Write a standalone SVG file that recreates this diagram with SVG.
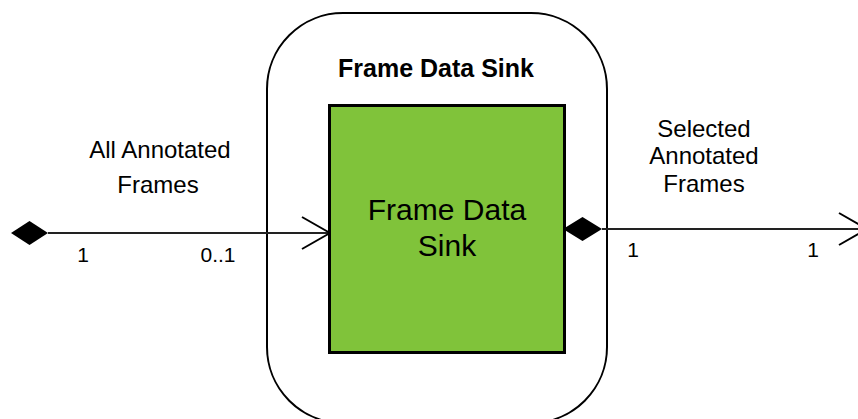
<svg xmlns="http://www.w3.org/2000/svg" width="858" height="419" viewBox="0 0 858 419">
  <style>
    .lbl { font-family: "Liberation Sans", Arial, sans-serif; fill: #000; text-anchor: middle; }
    .conn { stroke: #222; stroke-width: 2; fill: none; }
    .dia { fill: #000; stroke: none; }
  </style>
  <defs>
    <marker id="open" markerUnits="userSpaceOnUse" markerWidth="30" markerHeight="34" viewBox="-1 -1 30 34" refX="28" refY="16" orient="auto">
      <path d="M0,0 L28,16 L0,32" fill="none" stroke="#000" stroke-width="2"/>
    </marker>
  </defs>
  <rect width="858" height="419" fill="#fff"/>

  <g id="outer-node">
    <rect x="267" y="13" width="340" height="410" rx="76" ry="76" fill="#fff" stroke="#000" stroke-width="2"/>
    <text class="lbl" x="436" y="77" font-size="25" font-weight="bold">Frame Data Sink</text>
  </g>

  <g id="inner-node">
    <rect x="329.5" y="105.5" width="235" height="247" fill="#80C33A" stroke="#000" stroke-width="3"/>
    <text class="lbl" x="447" y="220" font-size="30">Frame Data</text>
    <text class="lbl" x="447" y="256" font-size="30">Sink</text>
  </g>

  <g id="connectors">
    <g id="in-conn">
      <line class="conn" x1="48" y1="233" x2="330" y2="233" marker-end="url(#open)"/>
      <path class="dia" d="M11,233 L29.5,221 L48,233 L29.5,245 Z"/>
      <text class="lbl" x="160" y="158" font-size="24">All Annotated</text>
      <text class="lbl" x="158" y="193" font-size="24">Frames</text>
      <text class="lbl" x="83" y="262" font-size="21">1</text>
      <text class="lbl" x="218" y="262" font-size="21">0..1</text>
    </g>
    <g id="out-conn">
      <line class="conn" x1="602" y1="229" x2="867" y2="229" marker-end="url(#open)"/>
      <path class="dia" d="M563,229 L582.5,217 L602,229 L582.5,241 Z"/>
      <text class="lbl" x="704" y="137" font-size="24">Selected</text>
      <text class="lbl" x="704" y="164" font-size="24">Annotated</text>
      <text class="lbl" x="704" y="192" font-size="24">Frames</text>
      <text class="lbl" x="633" y="257" font-size="21">1</text>
      <text class="lbl" x="813" y="257" font-size="21">1</text>
    </g>
  </g>
</svg>
